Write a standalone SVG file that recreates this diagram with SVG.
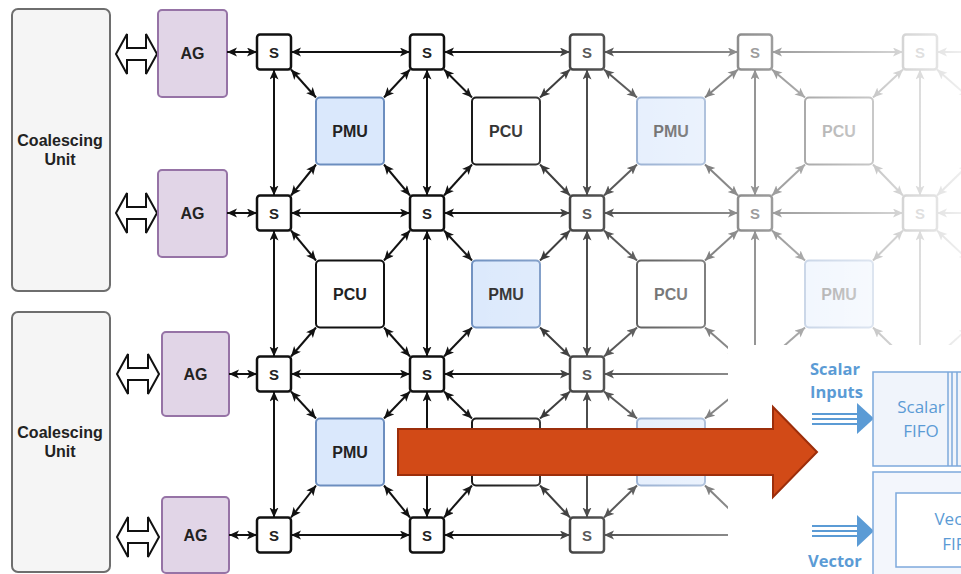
<svg xmlns="http://www.w3.org/2000/svg" width="961" height="574" viewBox="0 0 961 574">
<style>
.t{font-family:"Liberation Sans",Arial,sans-serif;font-weight:bold;fill:#222;text-anchor:middle}
.cu{fill:#f5f5f5;stroke:#6e6e6e;stroke-width:2}
.ag{fill:#e1d5e7;stroke:#9673a6;stroke-width:2}
.sw{fill:#fff;stroke:#111;stroke-width:2.5}
.pmu{fill:#dae8fc;stroke:#6c8ebf;stroke-width:2}
.pcu{fill:#fff;stroke:#111;stroke-width:2}
.ha{fill:#fff;stroke:#111;stroke-width:2;stroke-linejoin:miter}
.c path{fill:none;stroke:#111;stroke-width:2;marker-start:url(#ah);marker-end:url(#ah)}
.c path.o{marker-end:none}
.b{font-family:"Open Sans","Liberation Sans",sans-serif;fill:#5b9bd5}
.bl{stroke:#5b9bd5;stroke-width:2.2}
</style>
<defs>
<marker id="ah" markerUnits="userSpaceOnUse" markerWidth="11" markerHeight="10" refX="10" refY="4.5" orient="auto-start-reverse">
<path d="M0,0 L10,4.5 L0,9 L2.5,4.5 z" fill="#111"/>
</marker>
<linearGradient id="fade" gradientUnits="userSpaceOnUse" x1="450" y1="0" x2="961" y2="0">
<stop offset="0" stop-color="#fff" stop-opacity="0"/>
<stop offset="1" stop-color="#fff" stop-opacity="0.93"/>
</linearGradient>
</defs>

<g id="cu1"><rect class="cu" x="12" y="9" width="98" height="282" rx="6"/><text class="t" font-size="16" x="60" y="146">Coalescing</text><text class="t" font-size="16" x="60" y="165">Unit</text></g>
<g id="cu2"><rect class="cu" x="12" y="312" width="98" height="260" rx="6"/><text class="t" font-size="16" x="60" y="438">Coalescing</text><text class="t" font-size="16" x="60" y="457">Unit</text></g>

<g id="link1"><polygon class="ha" points="116,54 127,34 127,48 146,48 146,34 157,54 146,74 146,60 127,60 127,74"/></g>
<g id="link2"><polygon class="ha" points="116,213 127,193 127,207 146,207 146,193 157,213 146,233 146,219 127,219 127,233"/></g>
<g id="link3"><polygon class="ha" points="117,374 128,354 128,368 148,368 148,354 159,374 148,394 148,380 128,380 128,394"/></g>
<g id="link4"><polygon class="ha" points="117,537 128,517 128,531 148,531 148,517 159,537 148,557 148,543 128,543 128,557"/></g>

<g id="ag1"><rect class="ag" x="158" y="10" width="69" height="87" rx="4"/><text class="t" font-size="16" x="192.5" y="59">AG</text></g>
<g id="ag2"><rect class="ag" x="158" y="170" width="69" height="87" rx="4"/><text class="t" font-size="16" x="192.5" y="219">AG</text></g>
<g id="ag3"><rect class="ag" x="162" y="332" width="67" height="84" rx="4"/><text class="t" font-size="16" x="195.5" y="380">AG</text></g>
<g id="ag4"><rect class="ag" x="162" y="497" width="67" height="76" rx="4"/><text class="t" font-size="16" x="195.5" y="541">AG</text></g>

<g id="connectors" class="c">
<path d="M227 52 H257"/><path d="M227 213 H257"/><path d="M229 374 H257"/><path d="M229 535 H257"/>
<path d="M291 52 H410"/><path d="M444 52 H570"/><path d="M604 52 H738"/><path d="M772 52 H903"/><path class="o" d="M937 52 H975"/>
<path d="M291 213 H410"/><path d="M444 213 H570"/><path d="M604 213 H738"/><path d="M772 213 H903"/><path class="o" d="M937 213 H975"/>
<path d="M291 374 H410"/><path d="M444 374 H570"/><path d="M604 374 H738"/>
<path d="M291 535 H410"/><path d="M444 535 H570"/><path d="M604 535 H738"/>
<path d="M274 69.5 V195.5"/><path d="M274 230.5 V356.5"/><path d="M274 391.5 V517.5"/>
<path d="M427 69.5 V195.5"/><path d="M427 230.5 V356.5"/><path d="M427 391.5 V517.5"/>
<path d="M587 69.5 V195.5"/><path d="M587 230.5 V356.5"/><path d="M587 391.5 V517.5"/>
<path d="M755 69.5 V195.5"/><path d="M755 230.5 V356.5"/>
<path d="M920 69.5 V195.5"/><path d="M920 230.5 V356.5"/>
<path d="M291 69.5 L316 97.5"/><path d="M410 69.5 L384 97.5"/><path d="M291 195.5 L316 164.5"/><path d="M410 195.5 L384 164.5"/>
<path d="M444 69.5 L472 97.5"/><path d="M570 69.5 L540 97.5"/><path d="M444 195.5 L472 164.5"/><path d="M570 195.5 L540 164.5"/>
<path d="M604 69.5 L637 97.5"/><path d="M738 69.5 L705 97.5"/><path d="M604 195.5 L637 164.5"/><path d="M738 195.5 L705 164.5"/>
<path d="M772 69.5 L805 97.5"/><path d="M903 69.5 L873 97.5"/><path d="M772 195.5 L805 164.5"/><path d="M903 195.5 L873 164.5"/>
<path d="M937 69.5 L969 97.5"/><path d="M937 195.5 L969 164.5"/>
<path d="M291 230.5 L316 260.5"/><path d="M410 230.5 L384 260.5"/><path d="M291 356.5 L316 327.5"/><path d="M410 356.5 L384 327.5"/>
<path d="M444 230.5 L472 260.5"/><path d="M570 230.5 L540 260.5"/><path d="M444 356.5 L472 327.5"/><path d="M570 356.5 L540 327.5"/>
<path d="M604 230.5 L637 260.5"/><path d="M738 230.5 L705 260.5"/><path d="M604 356.5 L637 327.5"/><path d="M738 356.5 L705 327.5"/>
<path d="M772 230.5 L805 260.5"/><path d="M903 230.5 L873 260.5"/><path d="M772 356.5 L805 327.5"/><path d="M903 356.5 L873 327.5"/>
<path d="M937 230.5 L969 260.5"/><path d="M937 356.5 L969 327.5"/>
<path d="M291 391.5 L316 418.5"/><path d="M410 391.5 L384 418.5"/><path d="M291 517.5 L316 485.5"/><path d="M410 517.5 L384 485.5"/>
<path d="M444 391.5 L472 418.5"/><path d="M570 391.5 L540 418.5"/><path d="M444 517.5 L472 485.5"/><path d="M570 517.5 L540 485.5"/>
<path d="M604 391.5 L637 418.5"/><path d="M738 391.5 L705 418.5"/><path d="M604 517.5 L637 485.5"/><path d="M738 517.5 L705 485.5"/>
</g>

<g id="s11"><rect class="sw" x="257" y="34.5" width="34" height="35" rx="3"/><text class="t" font-size="15" x="274" y="57.5">S</text></g>
<g id="s12"><rect class="sw" x="410" y="34.5" width="34" height="35" rx="3"/><text class="t" font-size="15" x="427" y="57.5">S</text></g>
<g id="s13"><rect class="sw" x="570" y="34.5" width="34" height="35" rx="3"/><text class="t" font-size="15" x="587" y="57.5">S</text></g>
<g id="s14"><rect class="sw" x="738" y="34.5" width="34" height="35" rx="3"/><text class="t" font-size="15" x="755" y="57.5">S</text></g>
<g id="s15"><rect class="sw" x="903" y="34.5" width="34" height="35" rx="3"/><text class="t" font-size="15" x="920" y="57.5">S</text></g>
<g id="s21"><rect class="sw" x="257" y="195.5" width="34" height="35" rx="3"/><text class="t" font-size="15" x="274" y="218.5">S</text></g>
<g id="s22"><rect class="sw" x="410" y="195.5" width="34" height="35" rx="3"/><text class="t" font-size="15" x="427" y="218.5">S</text></g>
<g id="s23"><rect class="sw" x="570" y="195.5" width="34" height="35" rx="3"/><text class="t" font-size="15" x="587" y="218.5">S</text></g>
<g id="s24"><rect class="sw" x="738" y="195.5" width="34" height="35" rx="3"/><text class="t" font-size="15" x="755" y="218.5">S</text></g>
<g id="s25"><rect class="sw" x="903" y="195.5" width="34" height="35" rx="3"/><text class="t" font-size="15" x="920" y="218.5">S</text></g>
<g id="s31"><rect class="sw" x="257" y="356.5" width="34" height="35" rx="3"/><text class="t" font-size="15" x="274" y="379.5">S</text></g>
<g id="s32"><rect class="sw" x="410" y="356.5" width="34" height="35" rx="3"/><text class="t" font-size="15" x="427" y="379.5">S</text></g>
<g id="s33"><rect class="sw" x="570" y="356.5" width="34" height="35" rx="3"/><text class="t" font-size="15" x="587" y="379.5">S</text></g>
<g id="s41"><rect class="sw" x="257" y="517.5" width="34" height="35" rx="3"/><text class="t" font-size="15" x="274" y="540.5">S</text></g>
<g id="s42"><rect class="sw" x="410" y="517.5" width="34" height="35" rx="3"/><text class="t" font-size="15" x="427" y="540.5">S</text></g>
<g id="s43"><rect class="sw" x="570" y="517.5" width="34" height="35" rx="3"/><text class="t" font-size="15" x="587" y="540.5">S</text></g>

<g id="pmu-a1"><rect class="pmu" x="316" y="97.5" width="68" height="67" rx="4"/><text class="t" font-size="16" x="350" y="137">PMU</text></g>
<g id="pcu-a2"><rect class="pcu" x="472" y="97.5" width="68" height="67" rx="4"/><text class="t" font-size="16" x="506" y="137">PCU</text></g>
<g id="pmu-a3"><rect class="pmu" x="637" y="97.5" width="68" height="67" rx="4"/><text class="t" font-size="16" x="671" y="137">PMU</text></g>
<g id="pcu-a4"><rect class="pcu" x="805" y="97.5" width="68" height="67" rx="4"/><text class="t" font-size="16" x="839" y="137">PCU</text></g>
<g id="pcu-b1"><rect class="pcu" x="316" y="260.5" width="68" height="67" rx="4"/><text class="t" font-size="16" x="350" y="300">PCU</text></g>
<g id="pmu-b2"><rect class="pmu" x="472" y="260.5" width="68" height="67" rx="4"/><text class="t" font-size="16" x="506" y="300">PMU</text></g>
<g id="pcu-b3"><rect class="pcu" x="637" y="260.5" width="68" height="67" rx="4"/><text class="t" font-size="16" x="671" y="300">PCU</text></g>
<g id="pmu-b4"><rect class="pmu" x="805" y="260.5" width="68" height="67" rx="4"/><text class="t" font-size="16" x="839" y="300">PMU</text></g>
<g id="pmu-c1"><rect class="pmu" x="316" y="418.5" width="68" height="67" rx="4"/><text class="t" font-size="16" x="350" y="458">PMU</text></g>
<g id="pcu-c2"><rect class="pcu" x="472" y="418.5" width="68" height="67" rx="4"/></g>
<g id="pmu-c3"><rect class="pmu" x="637" y="418.5" width="68" height="67" rx="4"/></g>

<rect id="fade-overlay" x="440" y="0" width="521" height="574" fill="url(#fade)"/>

<g id="inset">
<rect x="728" y="345" width="233" height="229" fill="#fff"/>
<text class="b" font-weight="bold" font-size="16.5" x="810" y="375">Scalar</text>
<text class="b" font-weight="bold" font-size="16.5" x="810" y="398">Inputs</text>
<path class="bl" d="M812 414 H860 M812 419 H860 M812 424 H860"/>
<polygon points="857,403 874,418.5 857,434" fill="#5b9bd5"/>
<path class="bl" d="M812 526 H860 M812 531 H860 M812 536 H860"/>
<polygon points="857,515 874,531 857,547" fill="#5b9bd5"/>
<text class="b" font-weight="bold" font-size="16.5" x="808" y="567">Vector</text>
<rect x="873" y="372" width="100" height="94" fill="#f0f4fb" stroke="#7ea9dc" stroke-width="1.5"/>
<path d="M948 372 V466 M952 372 V466 M957 372 V466" stroke="#7ea9dc" stroke-width="1.5"/>
<text class="b" font-size="17" x="921" y="413" text-anchor="middle" fill="#6d9fd7">Scalar</text>
<text class="b" font-size="17" x="921" y="437" text-anchor="middle" fill="#6d9fd7">FIFO</text>
<rect x="873" y="472" width="100" height="110" fill="#f3f6fc" stroke="#7ea9dc" stroke-width="1.5"/>
<rect x="896" y="493" width="80" height="74" fill="#fff" stroke="#7ea9dc" stroke-width="1.5"/>
<text class="b" font-size="17" x="960" y="525" text-anchor="middle" fill="#6d9fd7">Vector</text>
<text class="b" font-size="17" x="960" y="550" text-anchor="middle" fill="#6d9fd7">FIFO</text>
</g>

<g id="big-arrow"><polygon points="398,429 773,429 773,407 817,452 773,497 773,475 398,475" fill="#d24a17" stroke="#9c2e0b" stroke-width="2"/></g>
</svg>
